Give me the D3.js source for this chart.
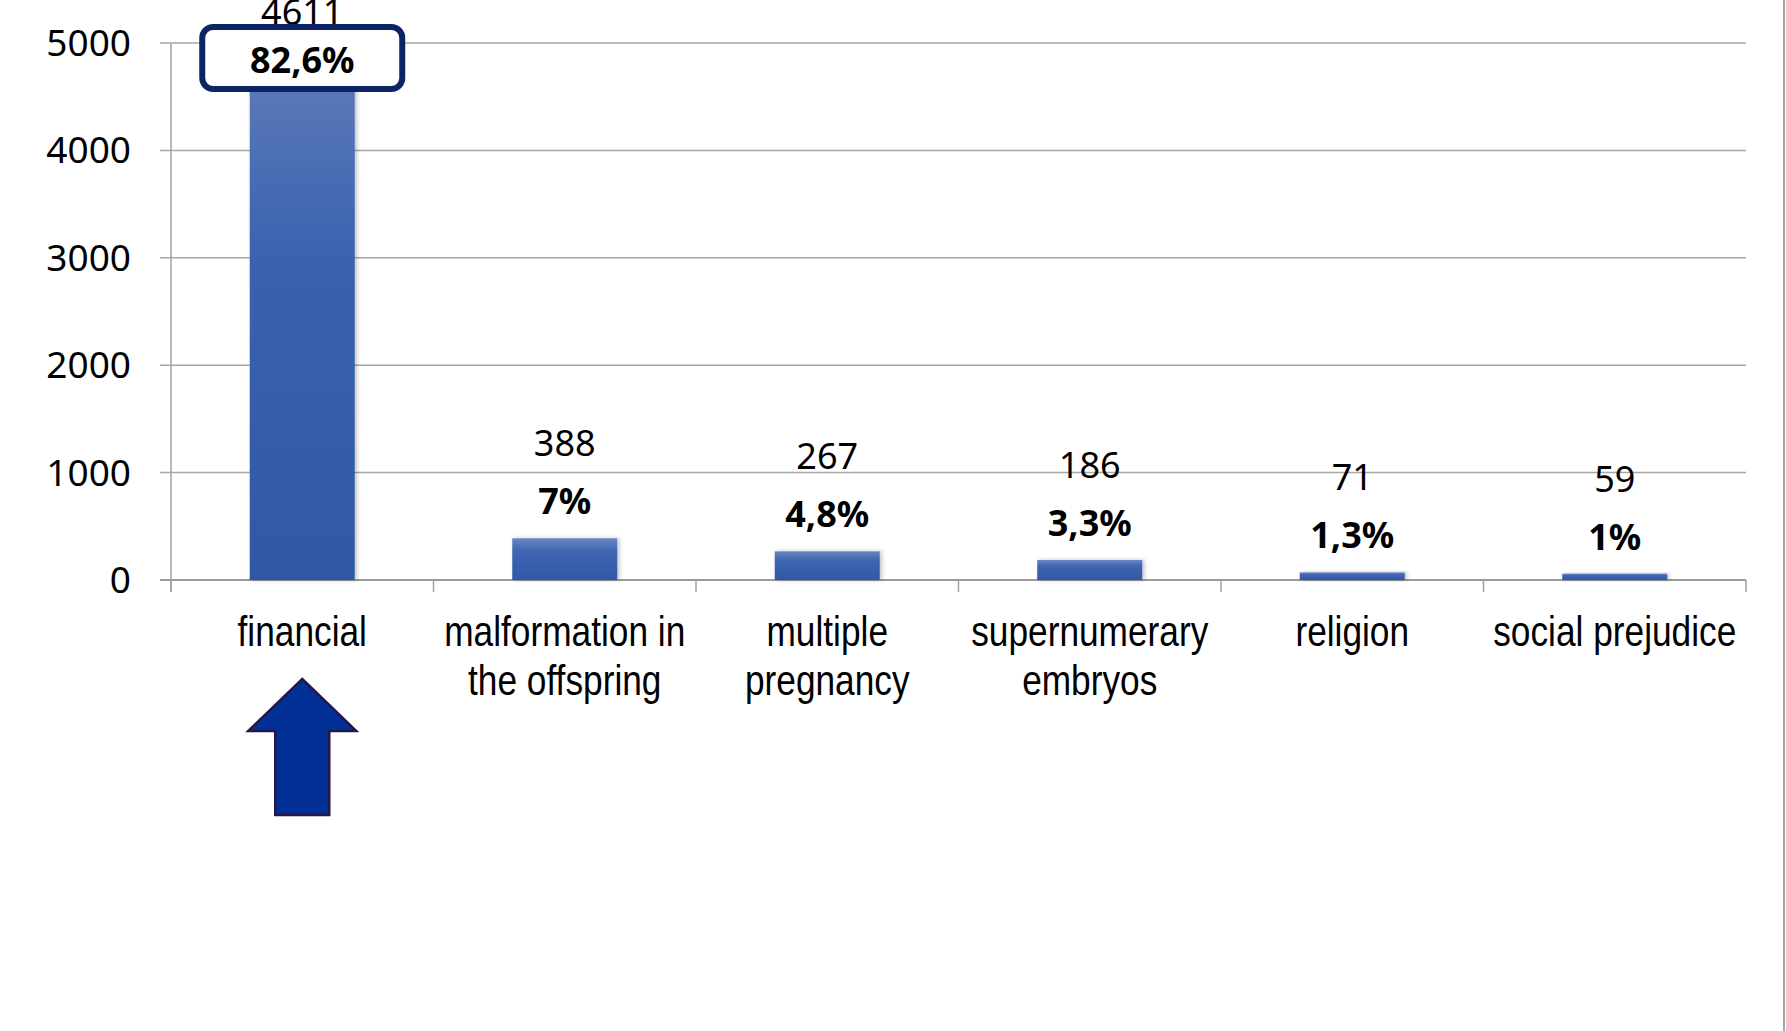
<!DOCTYPE html>
<html>
<head>
<meta charset="utf-8">
<script src="https://cdn.jsdelivr.net/npm/d3@7"></script>
<style>
  body { margin: 0; background: #fff; }
  svg { display: block; }
</style>
</head>
<body>
<svg id="chart"></svg>
<script>
// data
const categories = ["financial", "malformation in\nthe offspring", "multiple\npregnancy", "supernumerary\nembryos", "religion", "social prejudice"];
const counts = [4611, 388, 267, 186, 71, 59];
const percents = ["82,6%", "7%", "4,8%", "3,3%", "1,3%", "1%"];
const yTicks = [0, 1000, 2000, 3000, 4000, 5000];
const highlighted = "financial";

// layout
const W = 1786, H = 1031;
const plotL = 171, plotR = 1746, plotT = 43, plotB = 580;

const svg = d3.select("#chart").attr("width", W).attr("height", H);

const x = d3.scaleBand().domain(categories).range([plotL, plotR]).paddingInner(0.6).paddingOuter(0.3);
const y = d3.scaleLinear().domain([0, 5000]).range([plotB, plotT]);

// gradient for bars
const defs = svg.append("defs");
const grad = defs.append("linearGradient").attr("id", "barGrad").attr("x1", 0).attr("y1", 0).attr("x2", 0).attr("y2", 1);
grad.append("stop").attr("offset", "0%").attr("stop-color", "#5a78b9");
grad.append("stop").attr("offset", "35%").attr("stop-color", "#3a62b0");
grad.append("stop").attr("offset", "100%").attr("stop-color", "#2f58a6");
const gradSmall = defs.append("linearGradient").attr("id", "barGradSmall").attr("x1", 0).attr("y1", 0).attr("x2", 0).attr("y2", 1);
gradSmall.append("stop").attr("offset", "0%").attr("stop-color", "#6a86c4");
gradSmall.append("stop").attr("offset", "30%").attr("stop-color", "#3f66b3");
gradSmall.append("stop").attr("offset", "100%").attr("stop-color", "#2f58a6");
const shadow = defs.append("filter").attr("id", "shadow").attr("x", "-20%").attr("y", "-20%").attr("width", "140%").attr("height", "140%");
shadow.append("feDropShadow").attr("dx", 2).attr("dy", 0).attr("stdDeviation", 2).attr("flood-color", "#000").attr("flood-opacity", 0.25);

// gridlines
svg.append("g").selectAll("line").data(yTicks).join("line")
  .attr("x1", plotL - 11).attr("x2", plotR)
  .attr("y1", d => y(d)).attr("y2", d => y(d))
  .attr("stroke", d => d === 0 ? "#9a9a9a" : "#a8a8a8")
  .attr("stroke-width", d => d === 0 ? 2 : 1.5);

// y axis line
svg.append("line").attr("x1", plotL).attr("x2", plotL).attr("y1", plotT).attr("y2", plotB + 12)
  .attr("stroke", "#a0a0a0").attr("stroke-width", 1.5);

// y tick labels
svg.append("g").selectAll("text").data(yTicks).join("text")
  .attr("x", 131).attr("y", d => y(d) + 13)
  .attr("text-anchor", "end")
  .attr("font-family", "Noto Sans, Open Sans, sans-serif").attr("font-size", 37)
  .attr("fill", "#000")
  .text(d => d);

// category boundary ticks
svg.append("g").selectAll("line").data(d3.range(categories.length + 1)).join("line")
  .attr("x1", i => plotL + i * (plotR - plotL) / categories.length)
  .attr("x2", i => plotL + i * (plotR - plotL) / categories.length)
  .attr("y1", plotB).attr("y2", plotB + 12)
  .attr("stroke", "#a0a0a0").attr("stroke-width", 1.5);

// bars
svg.append("g").selectAll("rect").data(categories).join("rect")
  .attr("x", d => x(d)).attr("width", x.bandwidth())
  .attr("y", (d, i) => y(counts[i]))
  .attr("height", (d, i) => plotB - y(counts[i]))
  .attr("fill", (d, i) => counts[i] > 1000 ? "url(#barGrad)" : "url(#barGradSmall)")
  .attr("filter", "url(#shadow)");

// value + percent labels
const labels = svg.append("g").attr("font-family", "Noto Sans, Open Sans, sans-serif").attr("font-size", 36).attr("fill", "#000");
categories.forEach((c, i) => {
  const cx = x(c) + x.bandwidth() / 2;
  const barTop = y(counts[i]);
  let pctY = barTop - 24, valY = pctY - 58;
  if (c === highlighted) { pctY = 73; valY = 25; }
  labels.append("text").attr("x", cx).attr("y", valY).attr("text-anchor", "middle").text(counts[i]);
  if (c === highlighted) {
    labels.append("rect").attr("x", cx - 100).attr("y", 27).attr("width", 200).attr("height", 62)
      .attr("rx", 11).attr("fill", "#fff").attr("stroke", "#0c2463").attr("stroke-width", 6);
  }
  labels.append("text").attr("x", cx).attr("y", pctY).attr("text-anchor", "middle")
    .attr("font-weight", "bold").text(percents[i]);
});

// category labels (narrow face, condensed horizontally)
const catG = svg.append("g").attr("font-family", "Liberation Sans, Arial, sans-serif")
  .attr("font-size", 42).attr("fill", "#000");
categories.forEach(c => {
  const cx = x(c) + x.bandwidth() / 2;
  const t = catG.append("g").attr("transform", `translate(${cx},646) scale(0.84,1)`)
    .append("text").attr("text-anchor", "middle");
  c.split("\n").forEach((line, k) => {
    t.append("tspan").attr("x", 0).attr("y", k * 49).text(line);
  });
});

// arrow under highlighted category
const ax = x(highlighted) + x.bandwidth() / 2;
const arrow = d3.path();
arrow.moveTo(ax, 679);
arrow.lineTo(ax + 54, 731);
arrow.lineTo(ax + 27, 731);
arrow.lineTo(ax + 27, 815);
arrow.lineTo(ax - 27, 815);
arrow.lineTo(ax - 27, 731);
arrow.lineTo(ax - 54, 731);
arrow.closePath();
svg.append("path").attr("d", arrow.toString())
  .attr("fill", "#033096").attr("stroke", "#22184a").attr("stroke-width", 2.5);

// right frame edge
svg.append("line").attr("x1", 1784).attr("x2", 1784).attr("y1", 0).attr("y2", H)
  .attr("stroke", "#a3a3a3").attr("stroke-width", 2);
</script>
</body>
</html>
